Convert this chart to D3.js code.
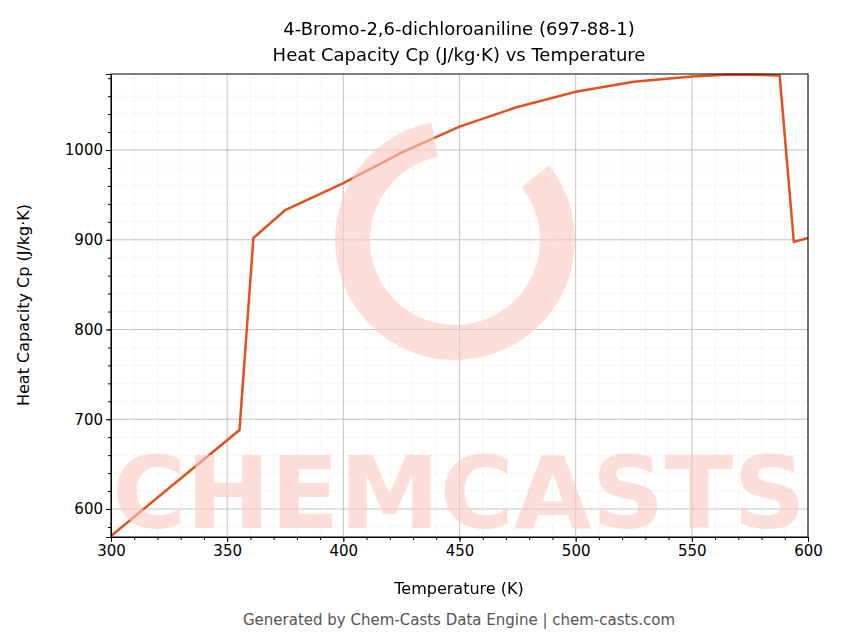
<!DOCTYPE html>
<html><head><meta charset="utf-8">
<script src="https://cdn.jsdelivr.net/npm/d3@7"></script>
<style>body{margin:0;background:#fff;font-family:"DejaVu Sans",sans-serif;}</style>
</head><body>
<svg id="chart" width="843" height="644"></svg>
<script>
// values
var temps = [300, 355.3, 361.3, 375, 400, 425, 450, 475, 500, 525, 550, 565, 575, 587.8, 593.9, 600];
var cp = [570, 688, 902, 933, 963, 997, 1026, 1048, 1065, 1076, 1082, 1084, 1084, 1083, 897.5, 902];
var xTicks = [300, 350, 400, 450, 500, 550, 600];
var yTicks = [600, 700, 800, 900, 1000];

var svg = d3.select('#chart');
var m = {l: 111, r: 35, t: 74, b: 107};
var w = 843 - m.l - m.r, h = 644 - m.t - m.b;
var x = d3.scaleLinear().domain([300, 600]).range([0, w]);
var y = d3.scaleLinear().domain([568.8, 1084.7]).range([h, 0]);
var g = svg.append('g').attr('transform', 'translate(' + m.l + ',' + m.t + ')');

svg.append('clipPath').attr('id', 'clip').append('rect')
  .attr('x', m.l).attr('y', m.t).attr('width', w).attr('height', h);

// watermark
var wm = svg.append('g').attr('clip-path', 'url(#clip)').attr('opacity', 0.6);
wm.append('path')
  .attr('d', d3.arc().innerRadius(85).outerRadius(120).startAngle(0.9).endAngle(2 * Math.PI - 0.2)())
  .attr('transform', 'translate(455,240)').attr('fill', '#fcc9c0');
wm.append('text').attr('x', 112).attr('y', 528)
  .attr('textLength', 694).attr('lengthAdjust', 'spacingAndGlyphs')
  .attr('font-size', 100).attr('font-weight', 'bold').attr('fill', '#fcc9c0')
  .text('CHEMCASTS');

// grid
var xMinor = d3.range(300, 601, 10), yMinor = d3.range(580, 1081, 20);
g.selectAll('.xm').data(xMinor).enter().append('line')
  .attr('x1', d => x(d)).attr('x2', d => x(d)).attr('y1', 0).attr('y2', h)
  .attr('stroke', '#ddd').attr('stroke-width', 0.5).attr('stroke-dasharray', '1,1');
g.selectAll('.ym').data(yMinor).enter().append('line')
  .attr('y1', d => y(d)).attr('y2', d => y(d)).attr('x1', 0).attr('x2', w)
  .attr('stroke', '#ddd').attr('stroke-width', 0.5).attr('stroke-dasharray', '1,1');
g.selectAll('.xg').data(xTicks).enter().append('line')
  .attr('x1', d => x(d)).attr('x2', d => x(d)).attr('y1', 0).attr('y2', h)
  .attr('stroke', '#b0b0b0').attr('stroke-width', 0.7);
g.selectAll('.yg').data(yTicks).enter().append('line')
  .attr('y1', d => y(d)).attr('y2', d => y(d)).attr('x1', 0).attr('x2', w)
  .attr('stroke', '#b0b0b0').attr('stroke-width', 0.7);

// line
var line = d3.line().x((d, i) => x(temps[i])).y(d => y(d)).curve(d3.curveLinear);
g.append('path').datum(cp).attr('d', line).attr('fill', 'none')
  .attr('stroke', '#e0521f').attr('stroke-width', 2.5);

// axes
var xa = g.append('g').attr('transform', 'translate(0,' + h + ')')
  .call(d3.axisBottom(x).tickValues(xTicks).tickFormat(d3.format('d')).tickSizeOuter(0).tickSize(5));
var xb = g.append('g').attr('transform', 'translate(0,' + h + ')')
  .call(d3.axisBottom(x).tickValues(xMinor).tickFormat('').tickSize(3));
var ya = g.append('g').call(d3.axisLeft(y).tickValues(yTicks).tickFormat(d3.format('d')).tickSizeOuter(0).tickSize(5));
var yb = g.append('g').call(d3.axisLeft(y).tickValues(yMinor).tickFormat('').tickSize(3));
[xb, yb].forEach(a => a.select('.domain').remove());
[xa, ya].forEach(a => a.selectAll('text').attr('font-size', 15).attr('fill', '#000')
  .attr('font-family', '"DejaVu Sans",sans-serif'));
g.append('rect').attr('width', w).attr('height', h).attr('fill', 'none').attr('stroke', '#000');

// titles
svg.append('text').attr('x', 459).attr('y', 35).attr('text-anchor', 'middle')
  .attr('font-size', 18).text('4-Bromo-2,6-dichloroaniline (697-88-1)');
svg.append('text').attr('x', 459).attr('y', 61).attr('text-anchor', 'middle')
  .attr('font-size', 18).text('Heat Capacity Cp (J/kg·K) vs Temperature');
svg.append('text').attr('x', 459).attr('y', 594).attr('text-anchor', 'middle')
  .attr('font-size', 16).text('Temperature (K)');
svg.append('text').attr('transform', 'translate(29,305) rotate(-90)').attr('text-anchor', 'middle')
  .attr('font-size', 16).text('Heat Capacity Cp (J/kg·K)');
svg.append('text').attr('x', 459).attr('y', 625).attr('text-anchor', 'middle')
  .attr('font-size', 15).attr('fill', '#555').text('Generated by Chem-Casts Data Engine | chem-casts.com');
</script>
</body></html>
